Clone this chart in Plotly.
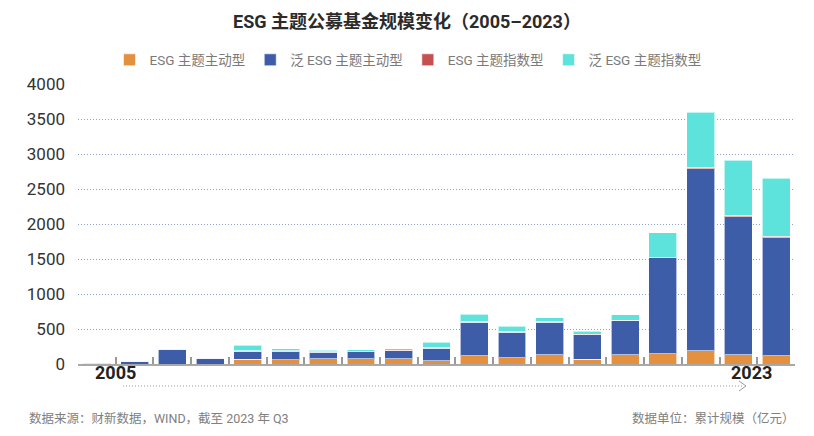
import plotly.graph_objects as go

years = list(range(2005, 2024))
esg_active = [0, 0, 0, 0, 65, 62, 72, 72, 72, 47, 119, 86, 129, 71, 133, 150, 190, 133, 119]
broad_active = [0, 40, 212, 85, 120, 120, 95, 100, 119, 181, 476, 371, 471, 347, 490, 1371, 2600, 1970, 1684]
esg_index = [8, 0, 0, 0, 5, 5, 5, 5, 5, 5, 7, 5, 7, 5, 5, 7, 20, 20, 20]
broad_index = [0, 0, 0, 0, 80, 33, 28, 28, 24, 81, 107, 76, 57, 42, 76, 350, 790, 786, 828]

series = [
    ("ESG 主题主动型", esg_active, "#E3903F"),
    ("泛 ESG 主题主动型", broad_active, "#3D5DA8"),
    ("ESG 主题指数型", esg_index, "#C6504F"),
    ("泛 ESG 主题指数型", broad_index, "#5EE3DC"),
]

FONT = "Roboto, Noto Sans CJK SC, sans-serif"

fig = go.Figure()
for name, vals, col in series:
    fig.add_trace(go.Bar(
        x=years, y=vals, name=name,
        marker=dict(color=col, line=dict(color="rgba(255,255,255,0.6)", width=1)),
    ))

# plot area in pixels: x 78..795, y 84..364
def px_x(p):
    return (p - 78) / 717.0

def px_y(p):
    return (364 - p) / 280.0

fig.update_layout(
    width=814, height=436,
    barmode="stack", bargap=0.26,
    margin=dict(l=78, r=19, t=84, b=72, autoexpand=False),
    paper_bgcolor="white", plot_bgcolor="white",
    font=dict(family=FONT, color="#333"),
    title=dict(
        text="<b>ESG 主题公募基金规模变化（2005–2023）</b>",
        x=0.5, xanchor="center", y=1 - 22 / 436, yanchor="middle",
        font=dict(size=18, color="#2b2b2b", family=FONT),
    ),
    legend=dict(
        orientation="h", x=px_x(408), xanchor="center", y=px_y(60), yanchor="middle",
        font=dict(size=13.5, color="#7a7a7a", family=FONT),
        traceorder="normal", itemwidth=30,
    ),
    showlegend=True,
    xaxis=dict(
        range=[years[0] - 0.5, years[-1] + 0.5],
        tick0=years[0] - 0.5, dtick=1,
        showticklabels=False, showgrid=False, zeroline=False,
        showline=True, linecolor="#a8a8a8", linewidth=1.5,
        ticks="inside", ticklen=7, tickcolor="#999999", tickwidth=1.5,
        layer="above traces", automargin=False,
    ),
    yaxis=dict(
        range=[0, 4000], dtick=500, tick0=0,
        showgrid=True, gridcolor="#8d9fcf", griddash="1px,2px", gridwidth=1,
        zeroline=False, showline=False,
        tickfont=dict(size=17, color="#333", family=FONT),
        ticklabelstandoff=12, automargin=False,
    ),
)

# bottom timeline decoration
fig.add_shape(type="line", xref="paper", yref="paper",
              x0=px_x(123), x1=px_x(744), y0=px_y(386), y1=px_y(386),
              line=dict(color="#9a9a9a", width=1, dash="1px,2px"))
fig.add_shape(type="path", xref="paper", yref="paper",
              path=f"M {px_x(739)} {px_y(381)} L {px_x(746)} {px_y(386)} L {px_x(739)} {px_y(391)}",
              line=dict(color="#9a9a9a", width=1))

fig.add_annotation(text="<b>2005</b>", xref="paper", yref="paper",
                   x=px_x(93), y=px_y(385), showarrow=False,
                   font=dict(size=18, color="#222", family=FONT))
fig.add_annotation(text="<b>2023</b>", xref="paper", yref="paper",
                   x=px_x(774), y=px_y(385), showarrow=False,
                   font=dict(size=18, color="#222", family=FONT))

fig.add_annotation(text="数据来源：财新数据，WIND，截至 2023 年 Q3", xref="paper", yref="paper",
                   x=px_x(27), y=px_y(418), xanchor="left", yanchor="middle", showarrow=False,
                   font=dict(size=12.5, color="#808080", family=FONT))
fig.add_annotation(text="数据单位：累计规模（亿元）", xref="paper", yref="paper",
                   x=px_x(797), y=px_y(418), xanchor="right", yanchor="middle", showarrow=False,
                   font=dict(size=12.5, color="#808080", family=FONT))

fig.write_html("out.html", config={"displayModeBar": False},
               post_script="document.body.style.margin='0';")
